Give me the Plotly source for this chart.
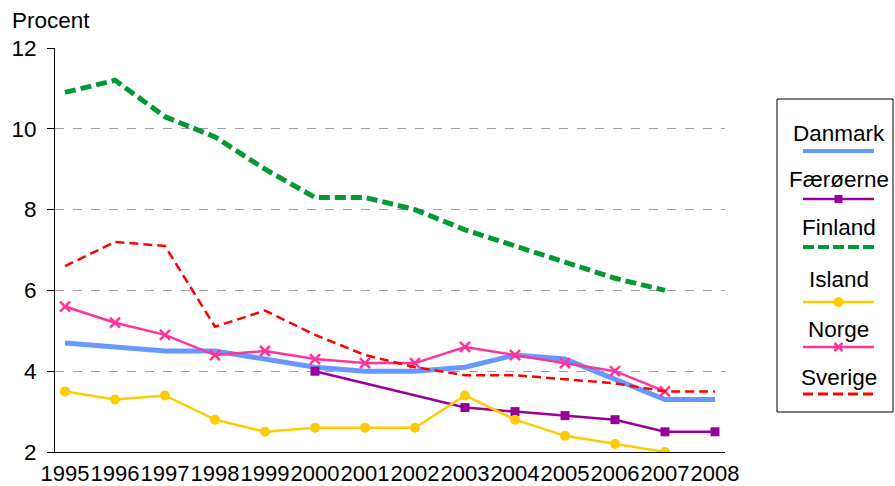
import plotly.graph_objects as go

years = list(range(1995, 2009))
year_labels = [str(y) for y in years]

danmark = [4.7, 4.6, 4.5, 4.5, 4.3, 4.1, 4.0, 4.0, 4.1, 4.4, 4.3, 3.8, 3.3, 3.3]
faeroerne = [None, None, None, None, None, 4.0, None, None, 3.1, 3.0, 2.9, 2.8, 2.5, 2.5]
finland = [10.9, 11.2, 10.3, 9.8, 9.0, 8.3, 8.3, 8.0, 7.5, 7.1, 6.7, 6.3, 6.0, None]
island = [3.5, 3.3, 3.4, 2.8, 2.5, 2.6, 2.6, 2.6, 3.4, 2.8, 2.4, 2.2, 2.0, None]
norge = [5.6, 5.2, 4.9, 4.4, 4.5, 4.3, 4.2, 4.2, 4.6, 4.4, 4.2, 4.0, 3.5, None]
sverige = [6.6, 7.2, 7.1, 5.1, 5.5, 4.9, 4.4, 4.1, 3.9, 3.9, 3.8, 3.7, 3.5, 3.5]

FONT = "Arial, 'Liberation Sans', sans-serif"
FS = 22.5
W, H = 895, 486
L, R, T, B = 55, 170, 48, 34

series = [
    dict(name="Danmark", y=danmark, color="#6699FF", width=5, dash="solid", marker=None,
         lg_width=4, lg_dash="solid"),
    dict(name="Færøerne", y=faeroerne, color="#990099", width=2.5, dash="solid",
         marker=dict(symbol="square", size=9), lg_width=2.5, lg_dash="solid"),
    dict(name="Finland", y=finland, color="#009933", width=5, dash="11px,5px", marker=None,
         lg_width=4, lg_dash="11px,4px"),
    dict(name="Island", y=island, color="#FFCC00", width=2.5, dash="solid",
         marker=dict(symbol="circle", size=10), lg_width=2.5, lg_dash="solid"),
    dict(name="Norge", y=norge, color="#FF3399", width=2.5, dash="solid",
         marker=dict(symbol="x-thin", size=10, line=dict(width=2.5, color="#FF3399")),
         lg_width=2.5, lg_dash="solid"),
    dict(name="Sverige", y=sverige, color="#FF0000", width=2.5, dash="9px,5px", marker=None,
         lg_width=3, lg_dash="10px,5px"),
]

fig = go.Figure()
for s in series:
    mode = "lines+markers" if s["marker"] else "lines"
    kw = dict(x=years, y=s["y"], name=s["name"], mode=mode, connectgaps=True,
              line=dict(color=s["color"], width=s["width"], dash=s["dash"]),
              showlegend=False)
    if s["marker"]:
        m = dict(s["marker"])
        m["color"] = s["color"]
        kw["marker"] = m
    fig.add_trace(go.Scatter(**kw))

pw, ph = W - L - R, H - T - B


def px(x):
    return (x - L) / pw


def py(y):
    return (H - B - y) / ph


shapes = []
annotations = []
# legend box
shapes.append(dict(type="rect", xref="paper", yref="paper",
                   x0=px(777), x1=px(893), y0=py(412), y1=py(99),
                   line=dict(color="#000000", width=1), fillcolor="white"))
text_y = [133, 180, 228, 279, 329, 377]
line_y = [151, 199, 247, 302, 347, 394]
lx0, lx1, lxc = 803, 874, 838.5
for s, ty, ly in zip(series, text_y, line_y):
    annotations.append(dict(text=s["name"], xref="paper", yref="paper",
                            x=px(lxc), y=py(ty), showarrow=False,
                            xanchor="center", yanchor="middle",
                            font=dict(family=FONT, size=FS, color="#000000")))
    shapes.append(dict(type="line", xref="paper", yref="paper",
                       x0=px(lx0), x1=px(lx1), y0=py(ly), y1=py(ly),
                       line=dict(color=s["color"], width=s["lg_width"], dash=s["lg_dash"])))
    cx, cy = lxc, ly
    if s["name"] == "Færøerne":
        shapes.append(dict(type="rect", xref="paper", yref="paper",
                           x0=px(cx - 4), x1=px(cx + 4), y0=py(cy + 4), y1=py(cy - 4),
                           line=dict(width=0), fillcolor=s["color"]))
    elif s["name"] == "Island":
        shapes.append(dict(type="circle", xref="paper", yref="paper",
                           x0=px(cx - 5), x1=px(cx + 5), y0=py(cy + 5), y1=py(cy - 5),
                           line=dict(width=0), fillcolor=s["color"]))
    elif s["name"] == "Norge":
        for d in (1, -1):
            shapes.append(dict(type="line", xref="paper", yref="paper",
                               x0=px(cx - 4), x1=px(cx + 4), y0=py(cy - 4 * d), y1=py(cy + 4 * d),
                               line=dict(color=s["color"], width=2.5)))

annotations.append(dict(text="Procent", xref="paper", yref="paper",
                        x=px(10), y=py(21), showarrow=False,
                        xanchor="left", yanchor="middle",
                        font=dict(family=FONT, size=FS, color="#000000")))

fig.update_layout(
    width=W, height=H,
    margin=dict(l=L, r=R, t=T, b=B, pad=0),
    paper_bgcolor="white", plot_bgcolor="white",
    font=dict(family=FONT, size=FS, color="#000000"),
    shapes=shapes, annotations=annotations,
    xaxis=dict(range=[1994.8, 2008.2], tickvals=years, ticktext=year_labels,
               showgrid=False, zeroline=False, showline=True, linecolor="#000000",
               linewidth=1, ticks="", tickangle=0, tickfont=dict(family=FONT, size=22),
               ticklabelstandoff=2, automargin=False, fixedrange=True),
    yaxis=dict(range=[2, 12], tickvals=[2, 4, 6, 8, 10, 12], showgrid=True,
               gridcolor="#A0A0A0", griddash="dash", gridwidth=1, zeroline=False,
               showline=True, linecolor="#000000", linewidth=1,
               ticks="outside", ticklen=7, tickcolor="#000000",
               tickfont=dict(family=FONT, size=FS), ticklabelstandoff=6,
               automargin=False, fixedrange=True),
)

fig.write_html("out.html", config={"displayModeBar": False},
               post_script="document.body.style.margin='0';")
